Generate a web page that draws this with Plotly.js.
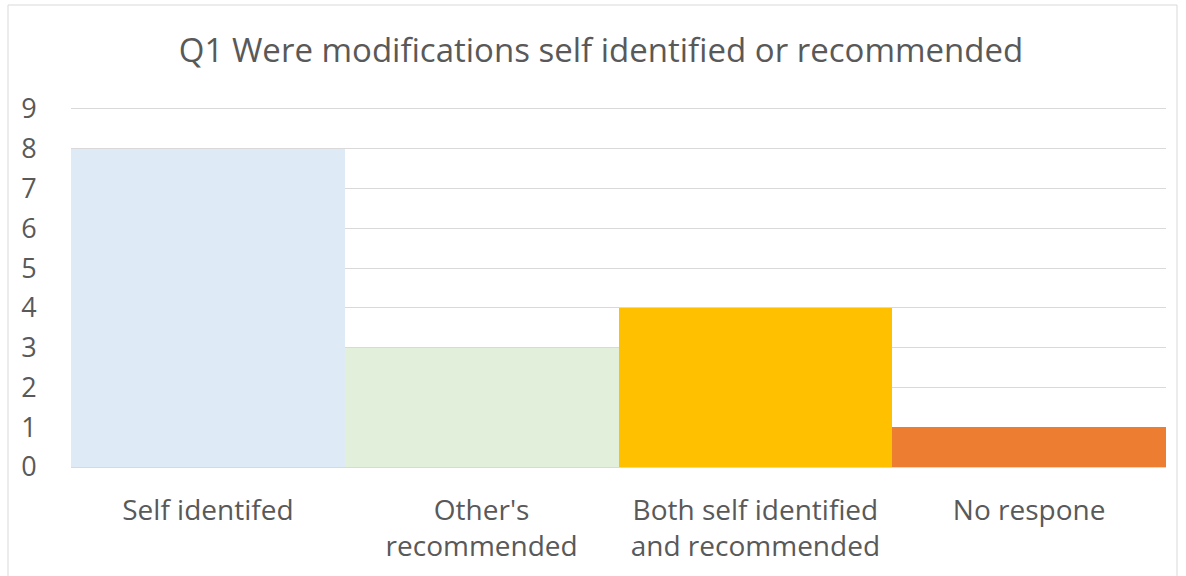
<!DOCTYPE html>
<html>
<head>
<meta charset="utf-8">
<script src="https://cdn.plot.ly/plotly-3.0.1.min.js"></script>
<style>html,body{margin:0;padding:0;background:#fff;}#chart{width:1186px;height:576px;}</style>
</head>
<body>
<div id="chart"></div>
<script>
const categories = ["Self identifed", "Other's<br>recommended", "Both self identified<br>and recommended", "No respone"];
const counts = [8, 3, 4, 1];
const barColors = ["#DEEBF7", "#E2EFDA", "#FFC000", "#ED7D31"];
const yTicks = [0, 1, 2, 3, 4, 5, 6, 7, 8, 9];

const W = 1186, H = 576, L = 71, R = 20, T = 107, B = 109;
const pw = W - L - R, ph = H - T - B;

Plotly.newPlot("chart", [{
  type: "bar",
  x: categories,
  y: counts,
  marker: {color: barColors, line: {width: 0}},
  hoverinfo: "none"
}], {
  width: W, height: H,
  margin: {l: L, r: R, t: T, b: B, pad: 0},
  paper_bgcolor: "#fff", plot_bgcolor: "#fff",
  bargap: 0,
  font: {family: "'Open Sans', sans-serif", color: "#595959"},
  title: {text: "Q1 Were modifications self identified or recommended", font: {size: 33, color: "#595959"}, x: 601 / W, xanchor: "center", y: 1 - 50/H, yanchor: "middle"},
  xaxis: {
    tickfont: {size: 28, color: "#595959"},
    ticks: "outside", ticklen: 18, tickcolor: "rgba(0,0,0,0)",
    showline: true, linecolor: "#D9D9D9", linewidth: 1,
    showgrid: false, fixedrange: true
  },
  yaxis: {
    range: [0, 9.05], tickvals: yTicks,
    tickfont: {size: 27, color: "#595959"},
    ticks: "outside", ticklen: 28, tickcolor: "rgba(0,0,0,0)",
    showgrid: true, gridcolor: "#D9D9D9", gridwidth: 1,
    zeroline: false, showline: false, fixedrange: true
  },
  shapes: [{
    type: "rect", xref: "paper", yref: "paper",
    x0: (8 - L) / pw, x1: (1177 - L) / pw,
    y0: (H - T - 580) / ph, y1: (H - T - 7) / ph,
    line: {color: "#D9D9D9", width: 1}, fillcolor: "rgba(0,0,0,0)", layer: "below"
  }],
  showlegend: false
}, {displayModeBar: false, staticPlot: true});
</script>
</body>
</html>
